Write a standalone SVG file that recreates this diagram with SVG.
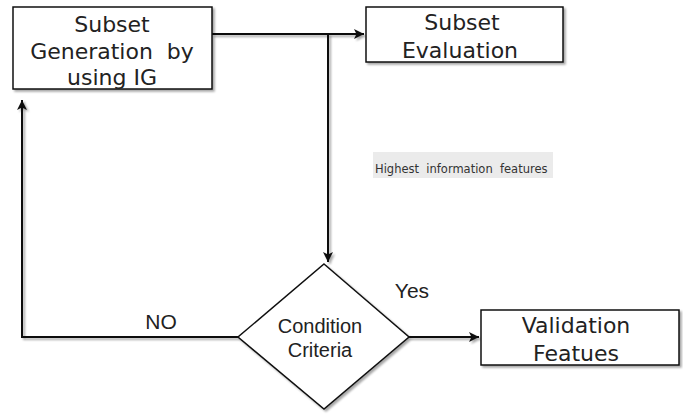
<svg xmlns="http://www.w3.org/2000/svg" width="683" height="415" viewBox="0 0 683 415">
<defs>
<marker id="arr" viewBox="0 0 10 10" refX="10" refY="5" markerWidth="10" markerHeight="10" markerUnits="userSpaceOnUse" orient="auto">
<path d="M0,0 L10,5 L0,10 L2.5,5 Z" fill="#111"/>
</marker>
<filter id="sh" filterUnits="userSpaceOnUse" x="0" y="0" width="683" height="415">
<feGaussianBlur in="SourceAlpha" stdDeviation="1"/>
<feOffset dx="2" dy="2" result="b"/>
<feComponentTransfer><feFuncA type="linear" slope="0.35"/></feComponentTransfer>
<feMerge><feMergeNode/><feMergeNode in="SourceGraphic"/></feMerge>
</filter>
</defs>
<style>
.box{fill:#fff;stroke:#111;stroke-width:1.5;filter:url(#sh)}
.t{font-family:"DejaVu Sans",Verdana,sans-serif;font-size:22px;fill:#222;text-anchor:middle;white-space:pre}
.a{font-family:"Liberation Sans",Arial,sans-serif;fill:#222;text-anchor:middle}
.ln{fill:none;stroke:#111;stroke-width:2;filter:url(#sh)}
</style>
<rect width="683" height="415" fill="#fff"/>
<g id="connectors">
<path class="ln" d="M212,34 H364" marker-end="url(#arr)"/>
<path class="ln" d="M328,34 V262" marker-end="url(#arr)"/>
<path class="ln" d="M409,337 H479" marker-end="url(#arr)"/>
<path class="ln" d="M238,337 H22 V100" marker-end="url(#arr)"/>
</g>
<g id="n1">
<rect class="box" x="13" y="7" width="199" height="82"/>
<text class="t" x="112" y="32">Subset</text>
<text class="t" x="112" y="59" xml:space="preserve">Generation  by</text>
<text class="t" x="112" y="85">using IG</text>
</g>
<g id="n2">
<rect class="box" x="366" y="7" width="197" height="55"/>
<text class="t" x="462" y="30">Subset</text>
<text class="t" x="460" y="58">Evaluation</text>
</g>
<g id="label-hif">
<rect x="373" y="152" width="180" height="26" fill="#ebebeb"/>
<text x="375" y="173" font-family="DejaVu Sans,Verdana,sans-serif" font-size="11.5" fill="#333" xml:space="preserve" style="white-space:pre">Highest  information  features</text>
</g>
<g id="n3">
<polygon class="box" points="324,264 409,337 324,409 238,337"/>
<text class="a" x="320" y="333" font-size="20">Condition</text>
<text class="a" x="320" y="357" font-size="20">Criteria</text>
</g>
<g id="n4">
<rect class="box" x="481" y="310" width="198" height="55"/>
<text class="t" x="576" y="333">Validation</text>
<text class="t" x="576" y="361">Featues</text>
</g>
<g id="labels">
<text class="a" x="412" y="298" font-size="21">Yes</text>
<text class="a" x="161" y="329" font-size="21">NO</text>
</g>
</svg>
